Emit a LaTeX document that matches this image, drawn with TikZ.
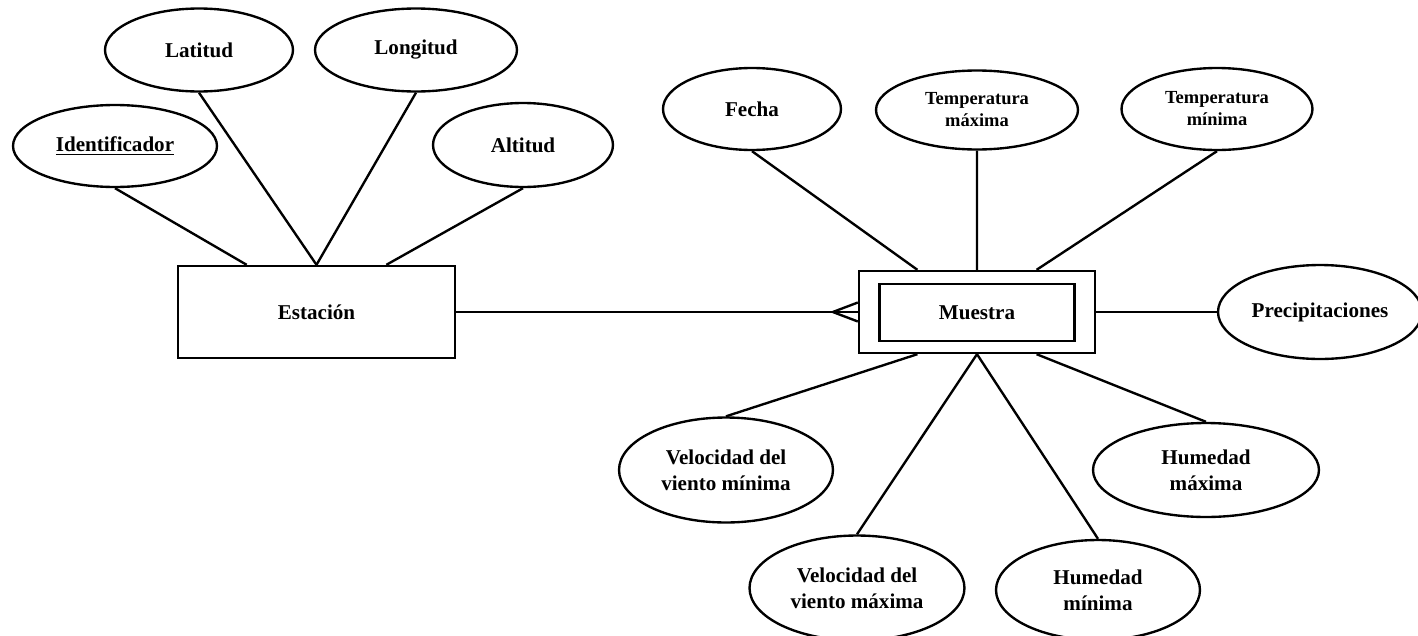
\documentclass[tikz,border=0pt]{standalone}
\usepackage{fontspec}
\setmainfont{Liberation Serif}
\usetikzlibrary{shapes.geometric,calc}

\begin{document}
\begin{tikzpicture}[x=0.02cm,y=-0.02cm,line width=1.35pt,
  attr/.style={draw,ellipse,inner sep=0pt,align=center,font=\bfseries\fontsize{12}{15}\selectfont},
  small/.style={font=\bfseries\fontsize{10.5}{12.5}\selectfont},
  entity/.style={draw,rectangle,inner sep=0pt,font=\bfseries\fontsize{12}{14}\selectfont}]
\useasboundingbox (0,0) rectangle (1418,636);
% entidades
\node[entity,minimum width=5.54cm,minimum height=1.84cm] (est) at (316.5,312) {Estación};
\node[entity,minimum width=4.72cm,minimum height=1.64cm] (mue) at (977,312) {};
\node[entity,minimum width=3.9cm,minimum height=1.14cm] (muein) at (977,312.5) {Muestra};
% atributos de Estación
\node[attr,minimum width=4.08cm,minimum height=1.64cm] (id) at (115,146) {\underline{Identificador}};
\node[attr,minimum width=3.76cm,minimum height=1.66cm] (lat) at (199,50) {Latitud};
\node[attr,minimum width=4.04cm,minimum height=1.66cm] (lon) at (416,50) {Longitud};
\node[attr,minimum width=3.6cm,minimum height=1.68cm] (alt) at (523,145) {Altitud};
% atributos de Muestra
\node[attr,minimum width=3.56cm,minimum height=1.64cm] (fec) at (752,109) {Fecha};
\node[attr,small,minimum width=4.04cm,minimum height=1.58cm] (tmax) at (977,110) {Temperatura\\máxima};
\node[attr,small,minimum width=3.82cm,minimum height=1.64cm] (tmin) at (1217,109) {Temperatura\\mínima};
\node[attr,minimum width=4.08cm,minimum height=1.88cm] (pre) at (1320,312) {Precipitaciones};
\node[attr,minimum width=4.28cm,minimum height=2.1cm] (vmin) at (726,470) {Velocidad del\\viento mínima};
\node[attr,minimum width=4.52cm,minimum height=1.88cm] (hmax) at (1206,470) {Humedad\\máxima};
\node[attr,minimum width=4.3cm,minimum height=2.1cm] (vmax) at (857,588) {Velocidad del\\viento máxima};
\node[attr,minimum width=4.08cm,minimum height=2.0cm] (hmin) at (1098,590) {Humedad\\mínima};
% puntos de union
\coordinate (e1) at ($(est.north west)!0.25!(est.north east)$);
\coordinate (e2) at ($(est.north west)!0.5!(est.north east)$);
\coordinate (e3) at ($(est.north west)!0.75!(est.north east)$);
\coordinate (m1) at ($(mue.north west)!0.25!(mue.north east)$);
\coordinate (m2) at ($(mue.north west)!0.5!(mue.north east)$);
\coordinate (m3) at ($(mue.north west)!0.75!(mue.north east)$);
\coordinate (b1) at ($(mue.south west)!0.25!(mue.south east)$);
\coordinate (b2) at ($(mue.south west)!0.5!(mue.south east)$);
\coordinate (b3) at ($(mue.south west)!0.75!(mue.south east)$);
\draw (e1) -- (id.south);
\draw (e2) -- (lat.south);
\draw (e2) -- (lon.south);
\draw (e3) -- (alt.south);
\draw (m1) -- (fec.south);
\draw (m2) -- (tmax.south);
\draw (m3) -- (tmin.south);
\draw (mue.east) -- (pre.west);
\draw (b1) -- (vmin.north);
\draw (b2) -- (vmax.north);
\draw (b2) -- (hmin.north);
\draw (b3) -- (hmax.north);
% relacion con pata de gallo
\draw (est.east) -- (mue.west);
\coordinate (pie) at ($(mue.west)+(-25,0)$);
\draw (pie) -- ($(mue.west)+(0,-9.5)$);
\draw (pie) -- ($(mue.west)+(0,9.5)$);
\end{tikzpicture}
\end{document}
